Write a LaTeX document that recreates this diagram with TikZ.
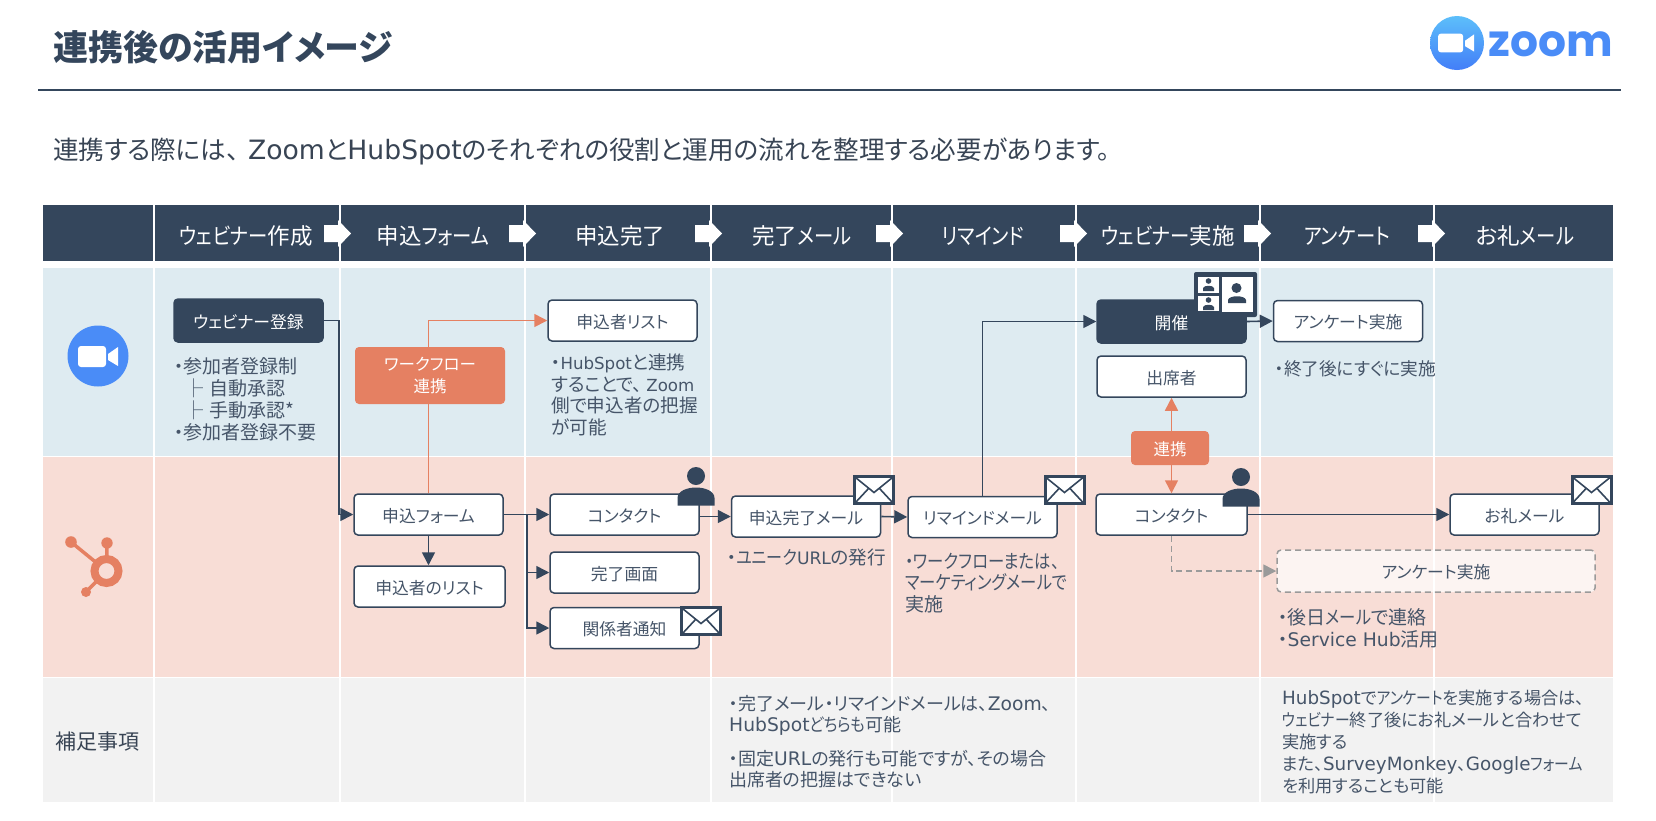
\documentclass[tikz,border=0pt]{standalone}
\usepackage{fontspec}
\setmainfont{Noto Sans CJK JP}[RawFeature=+palt]
\newfontfamily\kn{Noto Sans CJK JP}[RawFeature=+palt,FakeStretch=.86]
\newfontfamily\lt{DejaVu Sans}[Scale=1.04]
\newfontfamily\logofont{Poppins}
\usetikzlibrary{arrows.meta}
\definecolor{headcol}{HTML}{34465C}
\definecolor{bluerow}{HTML}{DEEBF1}
\definecolor{pinkrow}{HTML}{F8DDD6}
\definecolor{grayrow}{HTML}{F2F2F2}
\definecolor{orangecol}{HTML}{E58062}
\definecolor{textcol}{HTML}{465569}
\definecolor{zoomblue}{HTML}{4A8CF7}
\definecolor{dashcol}{HTML}{9A9A9A}
\tikzset{
  flowbox/.style={draw=headcol,line width=1.5pt,fill=white,rounded corners=4pt,minimum width=149pt,minimum height=41pt,inner sep=0pt,text height=18pt,text depth=2.6pt,text=textcol,font=\fontsize{16.8}{20}\selectfont},
  darkbox/.style={flowbox,fill=headcol,text=white},
  orangebox/.style={fill=orangecol,rounded corners=4pt,inner sep=0pt,text=white,align=center,font=\fontsize{16.5}{22}\selectfont},
  surveybox/.style={flowbox,draw=dashcol,dash pattern=on 6pt off 4pt,fill=white,fill opacity=.7,text opacity=1},
  notetext/.style={anchor=west,inner sep=0pt,align=left,text=textcol,font=\fontsize{19}{21.8}\selectfont},
  graytext/.style={notetext,font=\fontsize{18}{21}\selectfont},
  headtext/.style={inner sep=0pt,text=white,font=\fontsize{22.5}{24}\selectfont},
  flowarrow/.style={draw=headcol,line width=1.6pt,-{Triangle[length=13pt,width=13pt]}},
  orangearrow/.style={draw=orangecol,line width=1.6pt,-{Triangle[length=13pt,width=13pt]}},
  dasharrow/.style={draw=dashcol,line width=1.6pt,dash pattern=on 6pt off 4pt,-{Triangle[length=13pt,width=13pt]}}
}
% small icons
\newcommand{\mailicon}[2]{
  \begin{scope}[shift={(#1,#2)}]
    \draw[headcol,line width=3pt,fill=white] (0,0) rectangle (39,27);
    \draw[headcol,line width=1.6pt] (1,1) -- (19.5,16) -- (38,1);
    \draw[headcol,line width=1.6pt] (1,26) -- (14,12);
    \draw[headcol,line width=1.6pt] (38,26) -- (25,12);
  \end{scope}}
\newcommand{\personicon}[2]{
  \begin{scope}[shift={(#1,#2)}]
    \fill[headcol] (0,0) circle (9);
    \fill[headcol] (-18.5,29.5) -- (-18.5,22) .. controls (-18.5,15) and (-9,11.5) .. (0,11.5) .. controls (9,11.5) and (18.5,15) .. (18.5,22) -- (18.5,29.5) -- cycle;
  \end{scope}}
\newcommand{\camicon}[3]{
  \begin{scope}[shift={(#1,#2)},scale=#3]
    \fill[white,rounded corners=3pt] (-20,-10.5) rectangle (8,10.5);
    \fill[white] (10,-2.5) -- (20,-9.5) -- (20,9.5) -- (10,3.5) -- cycle;
  \end{scope}}
\begin{document}
\begin{tikzpicture}[x=1pt,y=-1pt]
  \useasboundingbox (0,0) rectangle (1656,820);
  % title
  \node[anchor=west,inner sep=0pt,text=headcol,font=\fontsize{35}{36}\selectfont\bfseries] (pagetitle) at (53,47) {連携後の活用イメージ};
  \draw[headcol,line width=1.5pt] (38,90) -- (1621,90);
  \node[anchor=west,inner sep=0pt,text=textcol!80!black,font=\fontsize{25.6}{28}\selectfont] (subtitle) at (53,151) {連携する際には、\hspace{9pt}{\lt Zoom}と{\lt HubSpot}のそれぞれの役割と運用の流れを整理する必要があります。};
  % logo
  \shade[top color=zoomblue!70!cyan!80!white,bottom color=zoomblue!90!blue] (1457,43) circle (27);
  \camicon{1456}{43}{.9}
  \node[inner sep=0pt,text=zoomblue,font=\fontsize{44}{44}\logofont\bfseries] (zoomword) at (1551,44) {zoom};
  % table
  \fill[headcol] (43,205) rectangle (1613,261);
  \fill[bluerow] (43,268) rectangle (1613,455.5);
  \fill[pinkrow] (43,457) rectangle (1613,676.5);
  \fill[grayrow] (43,678) rectangle (1613,802);
  \foreach \colx in {154,340,525,711,892,1076,1260,1434}
    \draw[white,line width=2.5pt] (\colx,205) -- (\colx,802);
  \foreach \colx in {340,525,711,892,1076,1260,1434}
    \fill[white] (\colx-16,225) -- (\colx-2,225) -- (\colx-2,220) -- (\colx+11,233.5) -- (\colx-2,247) -- (\colx-2,242) -- (\colx-16,242) -- cycle;
  \foreach \lx/\lname/\ltext in {246/hone/{{\kn ウェビナー}作成},433/htwo/{申込{\kn フォーム}},620/hthree/申込完了,802/hfour/{完了{\kn メール}},983/hfive/{\kn リマインド},1168/hsix/{{\kn ウェビナー}実施},1347/hseven/{\kn アンケート},1525/height/{お礼{\kn メール}}}
    \node[headtext] (\lname) at (\lx,236) {\ltext};
  % row icons
  \fill[zoomblue] (98,356) circle (30.5);
  \camicon{98}{356.5}{1}
  \begin{scope}[orangecol]
    \draw[line width=3.5pt] (106.5,571) -- (107,543);
    \draw[line width=3.5pt] (106.5,571) -- (71,542);
    \draw[line width=3.5pt] (106.5,571) -- (86,592);
    \draw[line width=8pt,fill=pinkrow] (106.5,571) circle (12);
    \fill (107,543) circle (5.7);
    \fill (71,542) circle (5.8);
    \fill (86,592) circle (5);
  \end{scope}
  \node[anchor=west,inner sep=0pt,text=textcol!80!black,font=\fontsize{21}{24}\selectfont] (extralabel) at (55,742) {補足事項};
  % zoom row
  \node[darkbox,minimum height=43pt] (webreg) at (248.5,320.5) {ウェビナー登録};
  \node[flowbox] (applist) at (622.5,320.5) {申込者リスト};
  \node[darkbox,minimum height=43pt] (event) at (1171.5,321.5) {開催};
  \node[flowbox] (attendee) at (1171.5,376.5) {出席者};
  \node[flowbox] (zsurvey) at (1348,321) {アンケート実施};
  % hubspot row
  \node[flowbox] (appform) at (428.5,514.5) {申込フォーム};
  \node[flowbox,minimum width=151pt] (listbox) at (429.5,586.5) {申込者のリスト};
  \node[flowbox] (contactA) at (624.5,514.5) {コンタクト};
  \node[flowbox] (donepage) at (624.5,572.5) {完了画面};
  \node[flowbox] (notify) at (624.5,628) {関係者通知};
  \node[flowbox] (donemail) at (806,516.5) {申込完了メール};
  \node[flowbox] (remind) at (982.5,517) {リマインドメール};
  \node[flowbox,minimum width=151pt] (contactB) at (1171.5,514.5) {コンタクト};
  \node[flowbox] (thanks) at (1524.5,514.5) {お礼メール};
  \node[surveybox,minimum width=318pt,minimum height=42pt] (hsurvey) at (1436,571) {アンケート実施};
  % connectors
  \coordinate (regturn) at (339,320.5);
  \coordinate (formsplit) at (527,514.5);
  \draw[flowarrow] (webreg.east) -- (regturn) |- (appform.west);
  \draw[orangearrow] (appform.north) |- (applist.west);
  \draw[flowarrow] (appform.south) -- (listbox.north -| appform.south);
  \draw[flowarrow] (appform.east) -- (contactA.west);
  \draw[flowarrow] (formsplit) |- (donepage.west);
  \draw[flowarrow] (formsplit) |- (notify.west);
  \draw[flowarrow] (contactA.east |- donemail.west) -- (donemail.west);
  \draw[flowarrow] (donemail.east) -- (remind.west);
  \draw[flowarrow] (remind.north) |- (event.west);
  \draw[flowarrow] (event.east) -- (zsurvey.west);
  \draw[flowarrow] (contactB.east) -- (thanks.west);
  \draw[dasharrow] (contactB.south) |- (hsurvey.west);
  \draw[orangearrow,{Triangle[length=13pt,width=13pt]}-{Triangle[length=13pt,width=13pt]}] (attendee.south) -- (contactB.north);
  \node[orangebox,minimum width=150pt,minimum height=57pt] (workflow) at (430,375.5) {ワークフロー\\連携};
  \node[orangebox,minimum width=78pt,minimum height=34pt,text height=18pt,text depth=2.6pt] (linkbox) at (1170,448) {連携};
  % icons on the boxes
  \personicon{696}{476}
  \personicon{1241}{477}
  \mailicon{854.5}{476.5}
  \mailicon{1045}{476.5}
  \mailicon{681.5}{607.5}
  \mailicon{1572}{476.5}
  \fill[headcol,rounded corners=2pt] (1194,272) rectangle (1257,317);
  \fill[white] (1198,277) rectangle (1219,293);
  \fill[white] (1198,296) rectangle (1219,311);
  \fill[white] (1222,277) rectangle (1253,312);
  \begin{scope}[headcol]
    \fill (1208.5,281) circle (2.8);
    \fill (1203,291) -- (1203,288) .. controls (1204,285) and (1213,285) .. (1214,288) -- (1214,291) -- cycle;
    \fill (1208.5,300) circle (2.8);
    \fill (1203,310) -- (1203,307) .. controls (1204,304) and (1213,304) .. (1214,307) -- (1214,310) -- cycle;
    \fill (1236.5,288) circle (5);
    \fill (1228,303) -- (1228,300) .. controls (1229,295) and (1245,295) .. (1246,300) -- (1246,303) -- cycle;
  \end{scope}
  % notes
  \node[notetext] (regnote) at (174,399.5) {・参加者登録制\\\hspace{10pt}├\hspace{2pt} 自動承認\\\hspace{10pt}├\hspace{2pt} 手動承認*\\・参加者登録不要};
  \node[notetext,font=\fontsize{18.6}{21.8}\selectfont] (hubnote) at (551,395) {・{\lt\fontsize{16}{20}\selectfont HubSpot}と連携\\することで、\hspace{4pt}{\lt\fontsize{16}{20}\selectfont Zoom}\\側で申込者の把握\\が可能};
  \node[notetext,font=\fontsize{18.6}{21}\selectfont] (uniquenote) at (727,557) {・{\kn ユニーク}{\lt\fontsize{16.5}{20}\selectfont URL}の発行};
  \node[notetext] (remindnote) at (905,583) {{\kn ・ワークフローまたは、}\\{\kn マーケティングメールで}\\実施};
  \node[notetext,font=\fontsize{17.7}{21}\selectfont] (endnote) at (1275,369) {・終了後にすぐに実施};
  \node[notetext] (laternote) at (1278,628.5) {・後日{\kn メール}で連絡\\・{\lt\fontsize{18}{20}\selectfont Service Hub}活用};
  \node[graytext] (mailgray) at (729,715) {・完了メール・リマインドメールは、{\lt Zoom}、\\{\lt HubSpot}{\kn どちらも}可能};
  \node[graytext] (urlgray) at (729,769) {・固定{\lt URL}の発行も可能ですが、その場合\\出席者の把握はできない};
  \node[graytext,font=\fontsize{17.2}{22}\selectfont] (surveygray) at (1282,741.5) {{\lt\fontsize{17.6}{20}\selectfont HubSpot}で{\kn アンケート}を実施する場合は、\\{\kn ウェビナー}終了後にお礼メールと合わせて\\実施する\\また、{\lt\fontsize{17.6}{20}\selectfont SurveyMonkey}、{\lt\fontsize{17.6}{20}\selectfont Google}{\kn フォーム}\\を利用することも可能};
\end{tikzpicture}
\end{document}
